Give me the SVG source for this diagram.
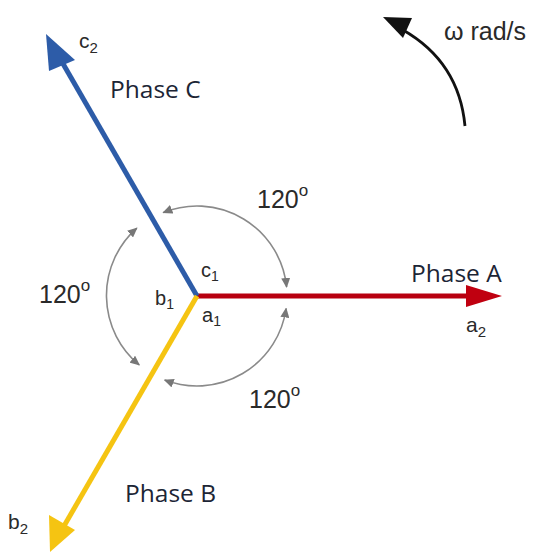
<svg xmlns="http://www.w3.org/2000/svg" width="537" height="555" viewBox="0 0 537 555">
<style>
.lbl{font-family:"Liberation Sans",Arial,sans-serif;fill:#2a2a2a;}
.ph{font-family:"Open Sans","Noto Sans",sans-serif;font-size:24.5px;fill:#1c2535;}
.arc{fill:none;stroke:#8a8a8a;stroke-width:1.6;}
.deg{font-family:"Liberation Sans",Arial,sans-serif;font-size:25px;fill:#2a2a2a;}
</style>
<defs>
<marker id="g" viewBox="0 0 10 10" refX="9" refY="5" markerWidth="10" markerHeight="9" markerUnits="userSpaceOnUse" orient="auto-start-reverse" preserveAspectRatio="none">
<path d="M0,0 L10,5 L0,10 z" fill="#777"/>
</marker>
</defs>
<rect width="537" height="555" fill="#fff"/>
<g id="connectors">
<path class="arc" d="M286.6,287 A90,90 0 0 0 163.3,212.6" marker-start="url(#g)" marker-end="url(#g)"/>
<path class="arc" d="M136.8,228.1 A90,90 0 0 0 139.2,364.9" marker-start="url(#g)" marker-end="url(#g)"/>
<path class="arc" d="M164.7,380.0 A90,90 0 0 0 286.1,308.5" marker-start="url(#g)" marker-end="url(#g)"/>
</g>
<g id="phaseA">
<line x1="197" y1="296" x2="470" y2="296" stroke="#b80010" stroke-width="5"/>
<path d="M502,296 L466,285 L466,307 z" fill="#c00010"/>
</g>
<g id="phaseC">
<line x1="197" y1="296" x2="62" y2="62" stroke="#2d5ca8" stroke-width="5"/>
<path d="M46,34 L49,71 L75,60 z" fill="#2d5ca8"/>
</g>
<g id="phaseB">
<line x1="197" y1="296" x2="64" y2="526" stroke="#f5c412" stroke-width="5"/>
<path d="M50,552 L49,515 L75,530 z" fill="#f5c412"/>
</g>
<g id="omega">
<path d="M465,126 Q459,62 403,30" fill="none" stroke="#111" stroke-width="2.8"/>
<path d="M383,17 L412,18 L403,38 z" fill="#111"/>
<text class="lbl" x="444" y="40" font-size="25">ω rad/s</text>
</g>
<g id="labels">
<text class="lbl" x="79" y="48" font-size="21">c<tspan font-size="15" dy="5">2</tspan></text>
<text class="ph" x="110" y="98">Phase C</text>
<text class="ph" x="411" y="282">Phase A</text>
<text class="lbl" x="466" y="332" font-size="21">a<tspan font-size="15" dy="5">2</tspan></text>
<text class="ph" x="125" y="502">Phase B</text>
<text class="lbl" x="8" y="529" font-size="21">b<tspan font-size="15" dy="5">2</tspan></text>
<text class="lbl" x="201" y="277" font-size="20">c<tspan font-size="14" dy="4">1</tspan></text>
<text class="lbl" x="155" y="305" font-size="20">b<tspan font-size="14" dy="4">1</tspan></text>
<text class="lbl" x="202" y="322" font-size="20">a<tspan font-size="14" dy="4">1</tspan></text>
<text class="deg" x="257" y="208">120<tspan font-size="17" dy="-12">o</tspan></text>
<text class="deg" x="39" y="303">120<tspan font-size="17" dy="-12">o</tspan></text>
<text class="deg" x="249" y="408">120<tspan font-size="17" dy="-12">o</tspan></text>
</g>
</svg>
